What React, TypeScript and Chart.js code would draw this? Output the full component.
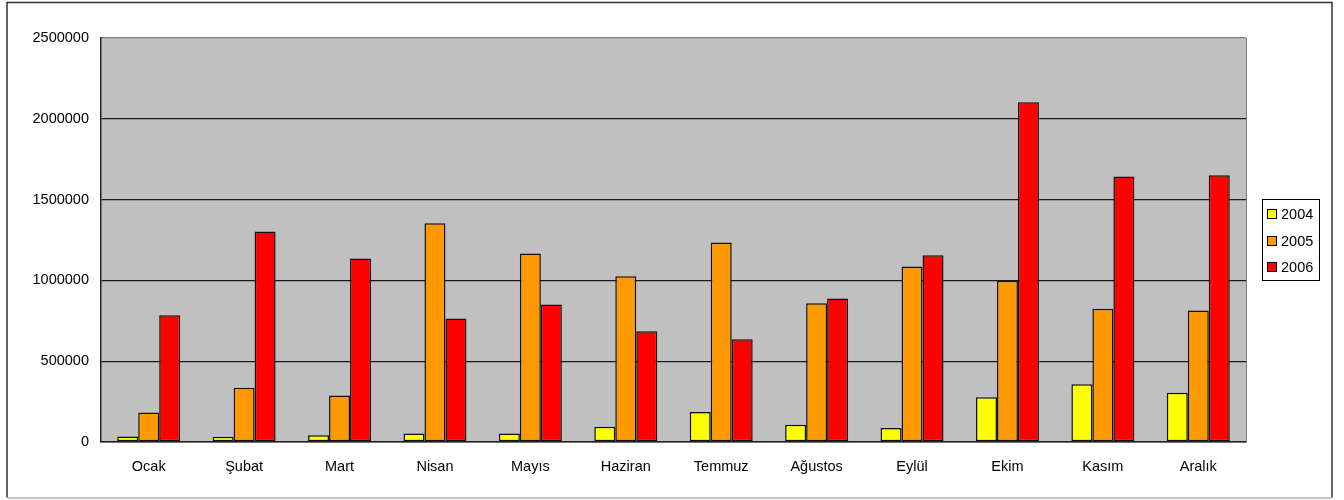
import React, { useEffect, useRef } from "react";
import { Chart, registerables } from "chart.js";

Chart.register(...registerables);

const categories = ["Ocak", "Şubat", "Mart", "Nisan", "Mayıs", "Haziran", "Temmuz", "Ağustos", "Eylül", "Ekim", "Kasım", "Aralık"];
const seriesNames = ["2004", "2005", "2006"];
const values2004 = [34000, 33000, 42000, 52000, 52000, 95000, 185000, 106000, 87000, 277000, 358000, 304000];
const values2005 = [182000, 336000, 287000, 1354000, 1167000, 1026000, 1235000, 859000, 1086000, 998000, 825000, 813000];
const values2006 = [784000, 1303000, 1136000, 765000, 851000, 686000, 636000, 888000, 1156000, 2103000, 1643000, 1651000];
const seriesColors = ["#FFFF00", "#FF9900", "#FF0000"];
const yTicks = [0, 500000, 1000000, 1500000, 2000000, 2500000];

const FONT = "'Liberation Sans', Arial, sans-serif";

export default function App() {
  const ref = useRef<HTMLCanvasElement | null>(null);

  useEffect(() => {
    if (!ref.current) return;
    const decor = {
      id: "decor",
      beforeDraw(chart: any) {
        const { ctx, chartArea } = chart;
        ctx.save();
        ctx.fillStyle = "#ffffff";
        ctx.fillRect(0, 0, chart.width, chart.height);
        ctx.fillStyle = "#C0C0C0";
        ctx.fillRect(chartArea.left, chartArea.top, chartArea.right - chartArea.left, chartArea.bottom - chartArea.top);
        ctx.restore();
      },
      afterDraw(chart: any) {
        const { ctx, chartArea } = chart;
        ctx.save();
        ctx.strokeStyle = "#808080";
        ctx.lineWidth = 1;
        ctx.beginPath();
        ctx.moveTo(chartArea.right + 0.5, chartArea.top);
        ctx.lineTo(chartArea.right + 0.5, chartArea.bottom);
        ctx.stroke();
        ctx.strokeStyle = "#333333";
        ctx.lineWidth = 1.5;
        ctx.beginPath();
        ctx.moveTo(7, 497.5);
        ctx.lineTo(7, 2.5);
        ctx.lineTo(1332, 2.5);
        ctx.lineTo(1332, 497.5);
        ctx.stroke();
        ctx.strokeStyle = "#b0b0b0";
        ctx.beginPath();
        ctx.moveTo(7, 498);
        ctx.lineTo(1332, 498);
        ctx.stroke();
        ctx.strokeStyle = "#000000";
        ctx.lineWidth = 1;
        ctx.fillStyle = "#ffffff";
        ctx.fillRect(1262.5, 199.5, 57, 81);
        ctx.strokeRect(1262.5, 199.5, 57, 81);
        const ys = [214, 241, 267];
        ctx.font = `14.5px ${FONT}`;
        ctx.textBaseline = "middle";
        ctx.textAlign = "left";
        seriesNames.forEach((name, i) => {
          ctx.fillStyle = seriesColors[i];
          ctx.fillRect(1267.5, ys[i] - 4.5, 9, 9);
          ctx.strokeRect(1267.5, ys[i] - 4.5, 9, 9);
          ctx.fillStyle = "#000000";
          ctx.fillText(name, 1281, ys[i] + 0.5);
        });
        ctx.restore();
      },
    };

    const chart = new Chart(ref.current, {
      type: "bar",
      data: {
        labels: categories,
        datasets: [values2004, values2005, values2006].map((d, i) => ({
          label: seriesNames[i],
          data: d,
          backgroundColor: seriesColors[i],
          borderColor: "#111111",
          borderWidth: 1.5,
          borderSkipped: false,
          categoryPercentage: 0.66,
          barPercentage: 1.0,
        })),
      },
      options: {
        responsive: false,
        animation: false,
        layout: { padding: { left: 0, top: 38, right: 98, bottom: 0 } },
        plugins: { legend: { display: false }, tooltip: { enabled: false } },
        scales: {
          x: {
            grid: { display: false, drawTicks: false },
            border: { display: true, color: "#222222", width: 1.5 },
            ticks: { color: "#000000", font: { family: FONT, size: 14.5 }, padding: 16, maxRotation: 0, autoSkip: false },
            afterFit(s: any) { s.height = 58; },
          },
          y: {
            min: 0,
            max: 2500000,
            afterBuildTicks(s: any) { s.ticks = yTicks.map((v) => ({ value: v })); },
            grid: {
              drawTicks: false,
              color: (c: any) => (c.tick && c.tick.value === 2500000 ? "#808080" : "#1a1a1a"),
              lineWidth: 1.3,
            },
            border: { display: true, color: "#222222", width: 1.5 },
            ticks: { color: "#000000", font: { family: FONT, size: 14.5 }, padding: 12, callback: (v: any) => String(v) },
            afterFit(s: any) { s.width = 101; },
          },
        },
      },
      plugins: [decor],
    });
    return () => chart.destroy();
  }, []);

  return (
    <div style={{ position: "absolute", left: 0, top: 0, width: 1344, height: 500 }}>
      <canvas ref={ref} width={1344} height={500} style={{ width: 1344, height: 500, display: "block" }} />
    </div>
  );
}
